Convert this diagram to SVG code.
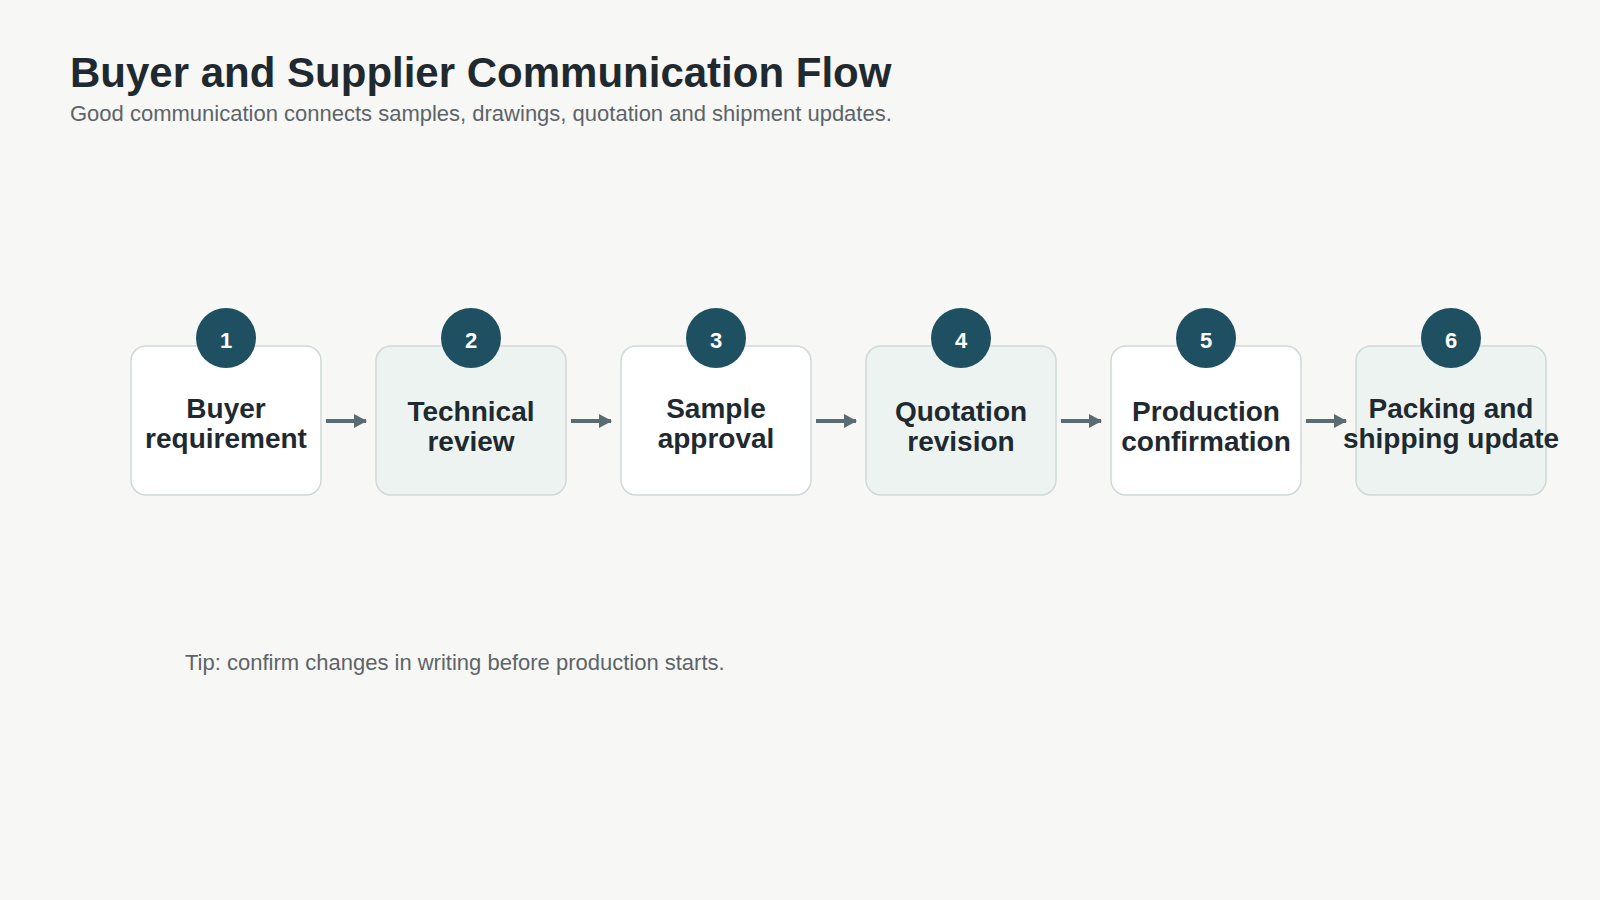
<svg xmlns="http://www.w3.org/2000/svg" width="1600" height="900" viewBox="0 0 1600 900">
<defs>
<marker id="ah" viewBox="0 0 14 14" refX="12" refY="7" markerWidth="14" markerHeight="14" orient="auto" markerUnits="userSpaceOnUse">
<path d="M0,0 L13,7 L0,14 Z" fill="#5b6b72"/>
</marker>
<style>
.title{font-family:"Liberation Sans",Arial,sans-serif;font-weight:700;font-size:42px;fill:#1f2a30}
.sub{font-family:"Liberation Sans",Arial,sans-serif;font-size:22px;fill:#5d6468}
.box{stroke:#d0d9d8;stroke-width:1.5}
.w{fill:#ffffff}
.g{fill:#edf3f1}
.lbl{font-family:"Liberation Sans",Arial,sans-serif;font-weight:700;font-size:28px;fill:#1f2a30;text-anchor:middle}
.badge{fill:#1f5062}
.num{font-family:"Liberation Sans",Arial,sans-serif;font-weight:700;font-size:22px;fill:#ffffff;text-anchor:middle}
.conn{stroke:#5b6b72;stroke-width:4;fill:none}
</style>
</defs>
<rect width="1600" height="900" fill="#f7f7f5"/>
<text class="title" x="70" y="87">Buyer and Supplier Communication Flow</text>
<text class="sub" x="70" y="121">Good communication connects samples, drawings, quotation and shipment updates.</text>

<g id="node1">
<rect class="box w" x="131" y="346" width="190" height="149" rx="15"/>
<circle class="badge" cx="226" cy="338" r="30"/>
<text class="num" x="226" y="348">1</text>
<text class="lbl" x="226" y="418">Buyer</text>
<text class="lbl" x="226" y="448">requirement</text>
</g>
<g id="node2">
<rect class="box g" x="376" y="346" width="190" height="149" rx="15"/>
<circle class="badge" cx="471" cy="338" r="30"/>
<text class="num" x="471" y="348">2</text>
<text class="lbl" x="471" y="421">Technical</text>
<text class="lbl" x="471" y="451">review</text>
</g>
<g id="node3">
<rect class="box w" x="621" y="346" width="190" height="149" rx="15"/>
<circle class="badge" cx="716" cy="338" r="30"/>
<text class="num" x="716" y="348">3</text>
<text class="lbl" x="716" y="418">Sample</text>
<text class="lbl" x="716" y="448">approval</text>
</g>
<g id="node4">
<rect class="box g" x="866" y="346" width="190" height="149" rx="15"/>
<circle class="badge" cx="961" cy="338" r="30"/>
<text class="num" x="961" y="348">4</text>
<text class="lbl" x="961" y="421">Quotation</text>
<text class="lbl" x="961" y="451">revision</text>
</g>
<g id="node5">
<rect class="box w" x="1111" y="346" width="190" height="149" rx="15"/>
<circle class="badge" cx="1206" cy="338" r="30"/>
<text class="num" x="1206" y="348">5</text>
<text class="lbl" x="1206" y="421">Production</text>
<text class="lbl" x="1206" y="451">confirmation</text>
</g>
<g id="node6">
<rect class="box g" x="1356" y="346" width="190" height="149" rx="15"/>
<circle class="badge" cx="1451" cy="338" r="30"/>
<text class="num" x="1451" y="348">6</text>
<text class="lbl" x="1451" y="418">Packing and</text>
<text class="lbl" x="1451" y="448">shipping update</text>
</g>

<g id="connectors">
<line class="conn" x1="326" y1="421" x2="366" y2="421" marker-end="url(#ah)"/>
<line class="conn" x1="571" y1="421" x2="611" y2="421" marker-end="url(#ah)"/>
<line class="conn" x1="816" y1="421" x2="856" y2="421" marker-end="url(#ah)"/>
<line class="conn" x1="1061" y1="421" x2="1101" y2="421" marker-end="url(#ah)"/>
<line class="conn" x1="1306" y1="421" x2="1346" y2="421" marker-end="url(#ah)"/>
</g>

<text class="sub" x="185" y="670">Tip: confirm changes in writing before production starts.</text>
</svg>
